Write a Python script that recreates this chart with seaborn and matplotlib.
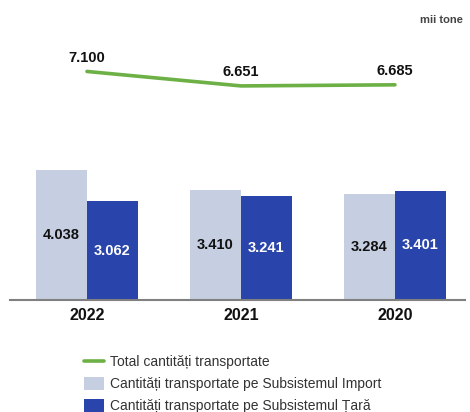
import numpy as np
import pandas as pd
import matplotlib
matplotlib.use("Agg")
import matplotlib.pyplot as plt
import seaborn as sns
from matplotlib.lines import Line2D
from matplotlib.patches import Patch

# Data (mii tone)
years = ["2022", "2021", "2020"]
import_vals = [4038, 3410, 3284]
tara_vals = [3062, 3241, 3401]
total_vals = [7100, 6651, 6685]

lbl_total = "Total cantități transportate"
lbl_import = "Cantități transportate pe Subsistemul Import"
lbl_tara = "Cantități transportate pe Subsistemul Țară"

c_import = "#C5CFE1"
c_tara = "#2944AA"
c_total = "#6DB045"


def fmt(v):
    # thousands separator as a period
    return f"{v:,}".replace(",", ".")


sns.set_style("white")
plt.rcParams["font.family"] = ["Liberation Sans", "DejaVu Sans"]

df = pd.DataFrame({
    "year": years * 2,
    "value": import_vals + tara_vals,
    "series": [lbl_import] * 3 + [lbl_tara] * 3,
})

fig = plt.figure(figsize=(4.7, 4.12), dpi=100)
ax = fig.add_axes([10 / 470, 112 / 412, 455 / 470, 300 / 412])

sns.barplot(data=df, x="year", y="value", hue="series", order=years,
            hue_order=[lbl_import, lbl_tara],
            palette=[c_import, c_tara], width=0.66, saturation=1,
            linewidth=0, legend=False, ax=ax)

sns.lineplot(x=np.arange(len(years)), y=total_vals, color=c_total,
             linewidth=2.6, ax=ax)

ax.set_xlim(-0.5, 2.455)
ax.set_ylim(0, 9320)

# bar labels (centred inside the bars)
for cont, col in zip(ax.containers, ["#111111", "white"]):
    for bar in cont:
        h = bar.get_height()
        ax.text(bar.get_x() + bar.get_width() / 2, h / 2, fmt(int(round(h))),
                ha="center", va="center", fontsize=10.5, fontweight="bold",
                color=col)

# line labels
for i, v in enumerate(total_vals):
    ax.annotate(fmt(v), (i, v), xytext=(0, 5), textcoords="offset points",
                ha="center", va="bottom", fontsize=10.5, fontweight="bold",
                color="#111111")

sns.despine(ax=ax, left=True, top=True, right=True)
ax.spines["bottom"].set_color("#808080")
ax.spines["bottom"].set_linewidth(1.5)
ax.set_yticks([])
ax.set_xlabel("")
ax.set_ylabel("")
ax.tick_params(axis="x", length=0, pad=6)
for t in ax.get_xticklabels():
    t.set_fontsize(11.5)
    t.set_fontweight("bold")
    t.set_color("#111111")

fig.text(463 / 470, 1 - 20 / 412, "mii tone", ha="right", va="center",
         fontsize=8, fontweight="bold", color="#444444")

handles = [
    Line2D([0], [0], color=c_total, linewidth=2.6),
    Patch(facecolor=c_import, edgecolor="none"),
    Patch(facecolor=c_tara, edgecolor="none"),
]
fig.legend(handles, [lbl_total, lbl_import, lbl_tara], loc="upper left",
           bbox_to_anchor=(84 / 470, 1 - 355 / 412), frameon=False,
           fontsize=10, handlelength=1.45, handleheight=1.1, handletextpad=0.45,
           labelspacing=0.53, borderpad=0, borderaxespad=0,
           labelcolor="#333333")

fig.savefig("out.png", dpi=100)
